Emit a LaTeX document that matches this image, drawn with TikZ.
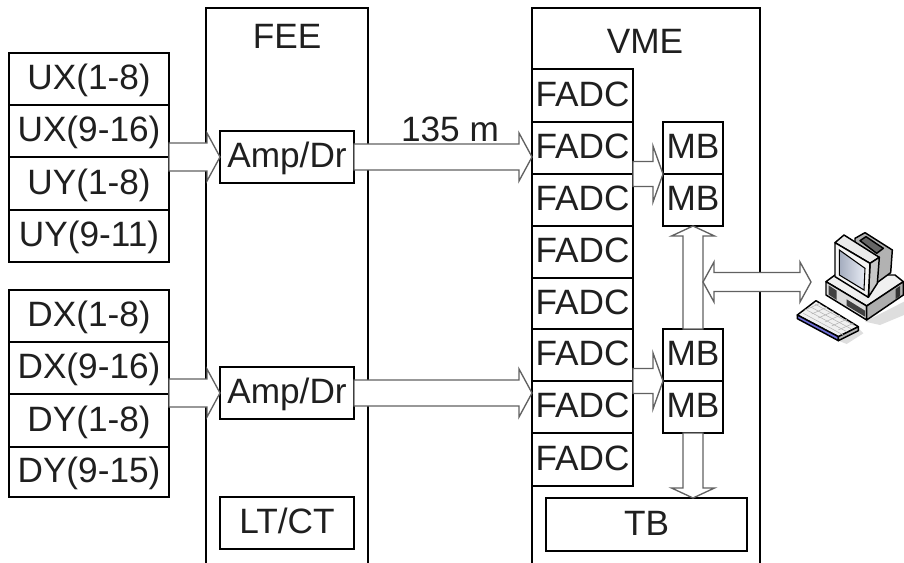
\documentclass[tikz,border=0pt]{standalone}
\usepackage{fontspec}
\setmainfont{Liberation Sans}
\usetikzlibrary{calc}
\def\u{0.75pt}
\definecolor{scrA}{HTML}{A4ACBE}
\definecolor{scrB}{HTML}{E8ECF5}
\definecolor{kbd}{HTML}{6E6ED8}
\tikzset{
  x=0.75pt,y=-0.75pt,
  bx/.style={draw=black,line width=1.7pt,fill=white,inner sep=0pt,outer sep=0pt,
    text height=16.2pt,text depth=0pt,font=\fontsize{26.4}{30}\selectfont,text=black!88},
  lbl/.style={inner sep=0pt,text height=18.9pt,text depth=0pt,font=\fontsize{26.4}{30}\selectfont,text=black!88},
  blk/.style={draw=black!62,line width=1pt,fill=white,line join=miter,miter limit=6},
  pcl/.style={draw=black,line width=1.1pt,line join=round}
}
% name, x1, y1, x2, y2, text
\newcommand\bxn[6]{%
  \pgfmathsetmacro\bw{(#4-#2)*0.75}\pgfmathsetmacro\bh{(#5-#3)*0.75}%
  \pgfmathsetmacro\bcx{(#4+#2)/2}\pgfmathsetmacro\bcy{(#5+#3)/2}%
  \node[bx,minimum width=\bw pt,minimum height=\bh pt] (#1) at (\bcx,\bcy) {#6};}
% from, to, shaft half width, head half width, head length
\newcommand\blockarrow[5]{%
  \path (#1) coordinate (bs) (#2) coordinate (bt);
  \coordinate (bh) at ($(bt)!#5*\u!(bs)$);
  \draw[blk] ($(bs)!#3*\u!90:(bt)$) -- ($(bh)!#3*\u!90:(bt)$) -- ($(bh)!#4*\u!90:(bt)$) -- (bt)
    -- ($(bh)!#4*\u!-90:(bt)$) -- ($(bh)!#3*\u!-90:(bt)$) -- ($(bs)!#3*\u!-90:(bt)$) -- cycle;}
\newcommand\blockdouble[5]{%
  \path (#1) coordinate (bs) (#2) coordinate (bt);
  \coordinate (bh) at ($(bt)!#5*\u!(bs)$);
  \coordinate (bi) at ($(bs)!#5*\u!(bt)$);
  \draw[blk] ($(bi)!#3*\u!90:(bt)$) -- ($(bh)!#3*\u!90:(bt)$) -- ($(bh)!#4*\u!90:(bt)$) -- (bt)
    -- ($(bh)!#4*\u!-90:(bt)$) -- ($(bh)!#3*\u!-90:(bt)$) -- ($(bi)!#3*\u!-90:(bt)$)
    -- ($(bi)!#4*\u!-90:(bt)$) -- (bs) -- ($(bi)!#4*\u!90:(bt)$) -- cycle;}
\begin{document}
\begin{tikzpicture}
\useasboundingbox (0,0) rectangle (904,563);
\clip (0,0) rectangle (904,563);
\fill[white] (0,0) rectangle (904,563);
% large frames
\bxn{fee}{206}{8}{368}{564}{}
\bxn{vme}{532}{8}{760}{564}{}
\node[lbl] (feet) at (287,36) {FEE};
\node[lbl] (vmet) at (645,41) {VME};
% detector stacks
\bxn{ux1}{9}{53}{169}{105}{UX(1-8)}
\bxn{ux2}{9}{105}{169}{157}{UX(9-16)}
\bxn{uy1}{9}{157}{169}{210}{UY(1-8)}
\bxn{uy2}{9}{210}{169}{262}{UY(9-11)}
\bxn{dx1}{9}{290}{169}{342}{DX(1-8)}
\bxn{dx2}{9}{342}{169}{394}{DX(9-16)}
\bxn{dy1}{9}{394}{169}{447}{DY(1-8)}
\bxn{dy2}{9}{447}{169}{497}{DY(9-15)}
% FEE content
\bxn{amp1}{220}{131}{354}{183}{Amp/Dr}
\bxn{amp2}{220}{367}{354}{419}{Amp/Dr}
\bxn{lt}{220}{497}{354}{549}{LT/CT}
% VME content
\bxn{f1}{532}{69}{633}{122}{FADC}
\bxn{f2}{532}{122}{633}{174}{FADC}
\bxn{f3}{532}{174}{633}{226}{FADC}
\bxn{f4}{532}{226}{633}{278}{FADC}
\bxn{f5}{532}{278}{633}{329}{FADC}
\bxn{f6}{532}{329}{633}{381}{FADC}
\bxn{f7}{532}{381}{633}{433}{FADC}
\bxn{f8}{532}{433}{633}{486}{FADC}
\bxn{m1}{663}{122}{723}{174}{MB}
\bxn{m2}{663}{174}{723}{226}{MB}
\bxn{m3}{663}{329}{723}{381}{MB}
\bxn{m4}{663}{381}{723}{433}{MB}
\bxn{tb}{546}{498}{747}{551}{TB}
\node[lbl] (len) at (450,129) {135 m};
% computer
\coordinate (pc) at (811,282);
\begin{scope}[shift={(780,220)},x=0.25pt,y=-0.25pt]
  \fill[black!13] (255,305) -- (372,245) -- (372,285) -- (300,315) -- cycle;
  \fill[black!13] (175,362) -- (235,325) -- (250,340) -- (200,372) -- cycle;
  % base
  \filldraw[pcl,fill=black!6] (138,185) -- (165,165) -- (345,165) -- (370,185) -- (260,258) -- cycle;
  \filldraw[pcl,fill=black!14] (138,185) -- (260,258) -- (260,300) -- (138,225) -- cycle;
  \filldraw[pcl,fill=black!32] (260,258) -- (370,185) -- (370,225) -- (260,300) -- cycle;
  \fill[black!75] (146,196) -- (170,212) -- (170,240) -- (146,224) -- cycle;
  \fill[black!75] (200,238) -- (255,272) -- (255,290) -- (200,257) -- cycle;
  \fill[black!80] (347,207) -- (360,198) -- (360,228) -- (347,237) -- cycle;
  % monitor
  \filldraw[pcl,fill=black!30] (225,55) -- (255,38) -- (337,90) -- (332,158) -- (268,205) -- (225,150) -- cycle;
  \filldraw[pcl,fill=black!60] (240,62) -- (258,50) -- (310,85) -- (290,100) -- cycle;
  \filldraw[pcl,fill=black!8] (165,68) -- (192,45) -- (298,112) -- (270,130) -- cycle;
  \filldraw[pcl,fill=black!22] (270,130) -- (298,112) -- (292,190) -- (265,232) -- cycle;
  \filldraw[pcl,fill=black!4] (165,68) -- (270,130) -- (265,232) -- (165,170) -- cycle;
  \shade[left color=scrA,right color=scrB,draw=black,line width=.8pt] (178,90) -- (255,145) -- (252,210) -- (178,165) -- cycle;
  % keyboard
  \filldraw[pcl,fill=black!6] (52,285) -- (108,242) -- (235,320) -- (175,350) -- cycle;
  \filldraw[pcl,fill=kbd] (52,285) -- (175,350) -- (175,362) -- (52,296) -- cycle;
  \filldraw[pcl,fill=black!30] (175,350) -- (235,320) -- (235,332) -- (175,362) -- cycle;
  \foreach \i in {0,...,5}{\draw[black!30,line width=.4pt] ($(75,270)+(\i*20,\i*12)$) -- ($(120,250)+(\i*20,\i*12)$);}
  \foreach \i in {0,...,3}{\draw[black!30,line width=.4pt] ($(70,280)+(\i*12,-\i*9)$) -- ($(190,345)+(\i*12,-\i*9)$);}
\end{scope}
% block arrows
\coordinate (t1) at (amp1.west);
\coordinate (t2) at (amp2.west);
\blockarrow{ux2.south east |- t1}{t1}{14}{24}{13}
\blockarrow{dx2.south east |- t2}{t2}{14}{24}{13}
\blockarrow{amp1.east}{amp1.east -| f2.west}{13}{24}{13}
\blockarrow{amp2.east}{amp2.east -| f7.west}{13}{24}{13}
\blockarrow{f2.south east}{m1.south west}{12.5}{28}{10}
\blockarrow{f6.south east}{m3.south west}{12.5}{28}{10}
\blockarrow{m3.north}{m2.south}{10}{21.5}{10}
\blockarrow{m4.south}{tb.north -| m4.south}{10}{21.5}{10}
\coordinate (busp) at ($(pc -| m2.south)+(10,0)$);
\blockdouble{busp}{pc}{9.5}{20}{11}
\end{tikzpicture}
\end{document}
